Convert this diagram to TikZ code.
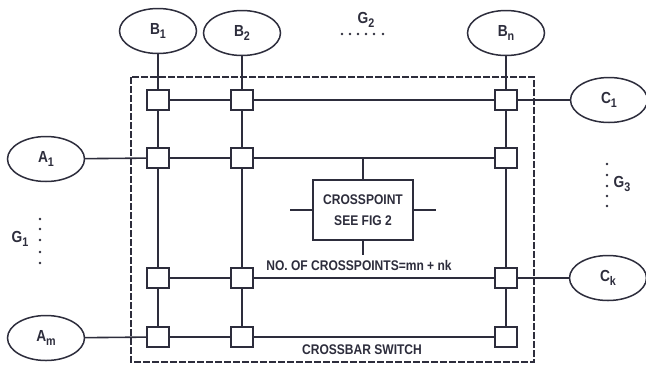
\documentclass[tikz,border=0pt]{standalone}
\usepackage{fontspec}
\setmainfont{Liberation Sans}[FakeStretch=0.86]
\usetikzlibrary{shapes.geometric}
\definecolor{inkc}{RGB}{45,45,60}
\newcommand\subl[2]{#1\raisebox{-0.5ex}{\fontsize{12.5}{12.5}\selectfont #2}}
\tikzset{
  % lines
  wire/.style      = {line width=1.6pt, draw=inkc},
  frameline/.style = {line width=1.4pt, draw=inkc, dash pattern=on 7pt off 2pt},
  % nodes
  xpt/.style   = {rectangle, draw=inkc, line width=1.5pt, fill=white,
                  minimum width=22pt, minimum height=20pt, inner sep=0pt},
  term/.style  = {ellipse, draw=inkc, line width=1.5pt, fill=white,
                  minimum width=77pt, minimum height=45pt, inner sep=0pt,
                  text=inkc, font=\fontsize{16}{16}\selectfont\bfseries},
  cpbox/.style = {rectangle, draw=inkc, line width=1.5pt, fill=white,
                  minimum width=100pt, minimum height=60pt, align=center,
                  text=inkc, font=\fontsize{14}{21}\selectfont\bfseries},
  % labels
  lab/.style   = {text=inkc, inner sep=0pt, font=\fontsize{14}{16}\selectfont\bfseries},
  glab/.style  = {text=inkc, inner sep=0pt, font=\fontsize{16}{16}\selectfont\bfseries},
}

\begin{document}
\begin{tikzpicture}[x=1pt,y=-1pt]
  \useasboundingbox (0,0) rectangle (646,368);
  % switch frame
  \draw[frameline] (131,77) rectangle (534,362);
  % crosspoints
  \foreach \c/\x in {1/158,2/242,3/506}
    \foreach \r/\y in {1/100,2/158,3/278,4/337}
      \node[xpt] (p\r\c) at (\x,\y) {};
  % terminals
  \node[term] (B1) at (158,31) {\subl{B}{1}};
  \node[term] (B2) at (242,33) {\subl{B}{2}};
  \node[term] (Bn) at (506,33) {\subl{B}{n}};
  \node[term] (A1) at (46,159) {\subl{A}{1}};
  \node[term] (Am) at (46,338) {\subl{A}{m}};
  \node[term] (C1) at (609,100) {\subl{C}{1}};
  \node[term] (Ck) at (608,278) {\subl{C}{k}};
  % vertical wires
  \draw[wire] (B1) -- (p11) -- (p21) -- (p31) -- (p41);
  \draw[wire] (B2) -- (p12) -- (p22) -- (p32) -- (p42);
  \draw[wire] (Bn) -- (p13) -- (p23) -- (p33) -- (p43);
  % horizontal wires
  \draw[wire] (p11) -- (p12) -- (p13) -- (C1);
  \draw[wire] (A1) -- (p21) -- (p22) -- (p23);
  \draw[wire] (p31) -- (p32) -- (p33) -- (Ck);
  \draw[wire] (Am) -- (p41) -- (p42) -- (p43);
  % crosspoint detail
  \node[cpbox] (cp) at (363,210) {CROSSPOINT\\SEE FIG 2};
  \coordinate (cpt) at (363,158);
  \coordinate (cpl) at (290,210);
  \coordinate (cpr) at (436,210);
  \coordinate (cpb) at (363,255);
  \draw[wire] (cp) -- (cpt);
  \draw[wire] (cp) -- (cpl);
  \draw[wire] (cp) -- (cpr);
  \draw[wire] (cp) -- (cpb);
  % texts
  \node[lab] (count) at (359,265) {NO. OF CROSSPOINTS=mn + nk};
  \node[lab] (title) at (362,350) {CROSSBAR SWITCH};
  % groups
  \node[glab] (G2) at (366,20) {\subl{G}{2}};
  \foreach \x in {342,350,358,366,374,383}
    \fill[inkc] (\x,34) circle (1.3pt);
  \node[glab] (G3) at (622,184) {\subl{G}{3}};
  \foreach \y in {164,175,186,196,206}
    \fill[inkc] (607,\y) circle (1.3pt);
  \node[glab] (G1) at (20,239) {\subl{G}{1}};
  \foreach \y in {219,229,240,252,263}
    \fill[inkc] (40,\y) circle (1.3pt);
\end{tikzpicture}
\end{document}
